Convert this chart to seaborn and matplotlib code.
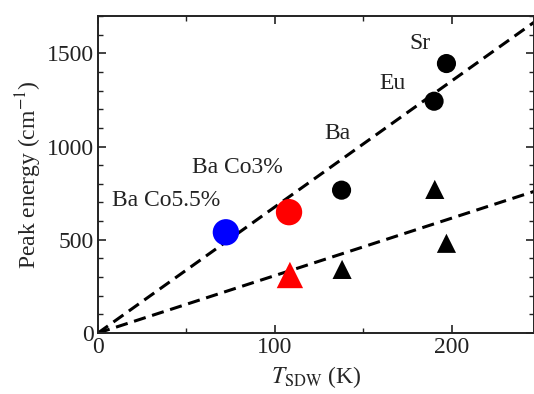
import matplotlib
matplotlib.use("Agg")
import matplotlib.pyplot as plt
import seaborn as sns
import pandas as pd
from matplotlib.ticker import MultipleLocator

# Data
black_circle_x = [137.7, 190.0, 197.0]
black_circle_y = [766, 1243, 1445]
black_tri_x = [138.0, 190.4, 197.0]
black_tri_y = [341, 770, 481]
blue_circle_x = [72.3]
blue_circle_y = [540]
red_circle_x = [108.0]
red_circle_y = [648]
red_tri_x = [108.5]
red_tri_y = [311]
fit_x = [0, 250]
fit_upper_y = [0, 1690]
fit_lower_y = [0, 770]

labels = ["Sr", "Eu", "Ba", "Ba Co3%", "Ba Co5.5%"]
label_x = [176.0, 159.0, 128.0, 53.0, 7.7]
label_y = [1554, 1340, 1072, 890, 713]

sns.set_style("ticks")
plt.rcParams['font.family'] = ['Liberation Serif', 'DejaVu Serif']
plt.rcParams['mathtext.fontset'] = 'stix'

fig = plt.figure(figsize=(5.34, 3.94), dpi=100)
ax = fig.add_axes([98/534, 1 - 333/394, (534 - 98)/534, (333 - 16)/394])

lines = pd.DataFrame({"x": fit_x + fit_x,
                      "y": fit_upper_y + fit_lower_y,
                      "fit": ["upper"] * 2 + ["lower"] * 2})
for name in ["upper", "lower"]:
    d = lines[lines.fit == name]
    sns.lineplot(data=d, x="x", y="y", ax=ax, color="black", lw=2.2,
                 linestyle=(0, (4, 2.2)), legend=False)

sns.scatterplot(x=black_circle_x, y=black_circle_y, ax=ax, color="black",
                marker="o", s=190, edgecolor="none", zorder=3)
sns.scatterplot(x=black_tri_x, y=black_tri_y, ax=ax, color="black",
                marker="^", s=190, edgecolor="none", zorder=3)
sns.scatterplot(x=blue_circle_x, y=blue_circle_y, ax=ax, color="#0000ff",
                marker="o", s=360, edgecolor="none", zorder=3)
sns.scatterplot(x=red_circle_x, y=red_circle_y, ax=ax, color="#ff0000",
                marker="o", s=360, edgecolor="none", zorder=3)
sns.scatterplot(x=red_tri_x, y=red_tri_y, ax=ax, color="#ff0000",
                marker="^", s=360, edgecolor="none", zorder=3)

for t, x, y in zip(labels, label_x, label_y):
    ax.text(x, y, t, fontsize=17, ha="left", va="center", color="#222222")

ax.set_xlim(0, 246.5)
ax.set_ylim(0, 1700)
ax.xaxis.set_major_locator(MultipleLocator(100))
ax.xaxis.set_minor_locator(MultipleLocator(50))
ax.yaxis.set_major_locator(MultipleLocator(500))
ax.yaxis.set_minor_locator(MultipleLocator(100))
ax.tick_params(which="both", direction="in", top=True, right=True,
               labelsize=17, colors="#222222", pad=3)
ax.tick_params(which="major", length=6, width=1.2)
ax.tick_params(which="minor", length=3.5, width=1.0)
for s in ax.spines.values():
    s.set_linewidth(1.4)
    s.set_color("#222222")

ax.set_ylabel("Peak energy (cm$^{-1}$)", fontsize=17, labelpad=2)
ax.set_xlabel("$T_{\\mathrm{SDW}}$ (K)", fontsize=17, labelpad=4)

fig.savefig("out.png", dpi=100)
